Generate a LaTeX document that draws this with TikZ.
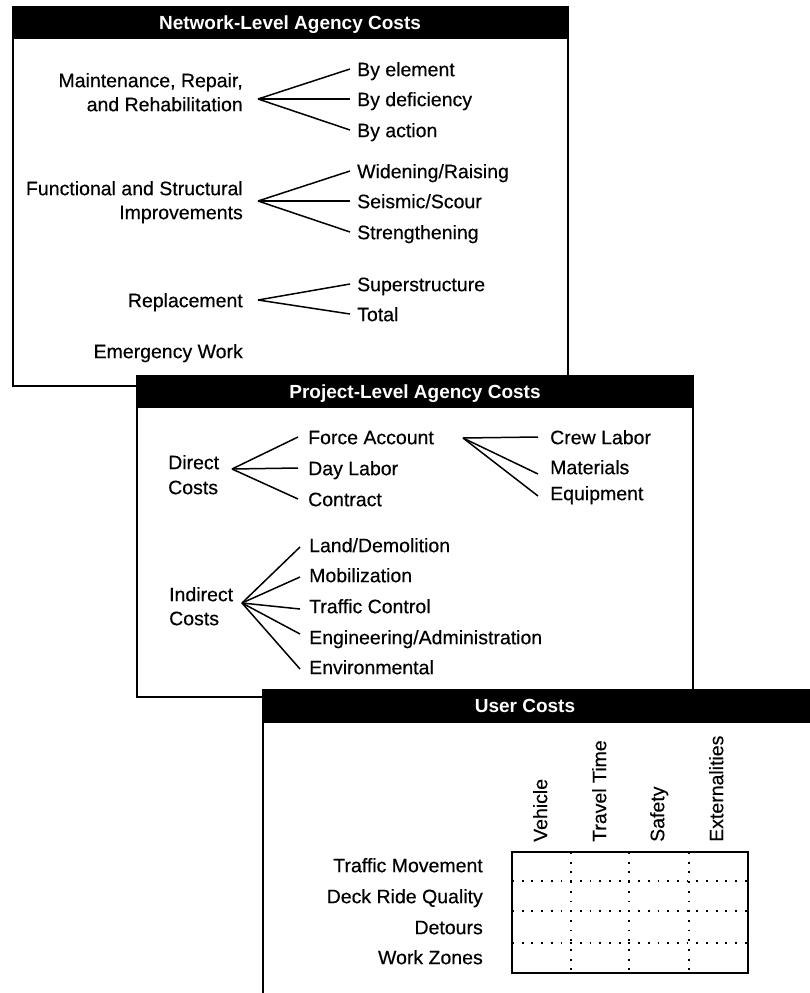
\documentclass[tikz,border=0pt]{standalone}
\usepackage{fontspec}
\setmainfont{Liberation Sans}
\newfontfamily\bodyfont[FakeBold=0.35]{Liberation Sans}
\begin{document}
\begin{tikzpicture}[x=1pt,y=-1pt,
  lbl/.style={inner sep=0pt, text height=14.4pt, text depth=0pt, font=\bodyfont\fontsize{19.5}{24}\selectfont},
  hdrbar/.style={fill=black, draw=black, line width=1.2pt},
  hdrtext/.style={text=white, inner sep=0pt, text height=13.7pt, text depth=0pt, font=\bfseries\fontsize{19}{23}\selectfont},
  boxline/.style={draw=black, fill=white, line width=1.5pt},
  fan/.style={line width=1.5pt},
  dotgrid/.style={line width=1.8pt, dash pattern=on 1.8pt off 7.9pt}]

\clip (0,0) rectangle (810,993);
\fill[white] (0,0) rectangle (810,993);

% ---------------- Box 1: Network-Level Agency Costs
\path[boxline] (13,7) rectangle (568,386);
\path[hdrbar] (13,7) rectangle (568,38);
\node[hdrtext] (h1) at (290,22.5) {Network-Level Agency Costs};

\node[lbl, anchor=east] (mrr1) at (243,80) {Maintenance, Repair,};
\node[lbl, anchor=east] (mrr2) at (243,104) {and Rehabilitation};
\coordinate (o1) at (258,99);
\node[lbl, anchor=west] (be) at (357,69) {By element};
\node[lbl, anchor=west] (bd) at (357,99) {By deficiency};
\node[lbl, anchor=west] (ba) at (357,130) {By action};
\draw[fan] (o1) -- ([xshift=-7pt]be.west);
\draw[fan] (o1) -- ([xshift=-7pt]bd.west);
\draw[fan] (o1) -- ([xshift=-7pt]ba.west);

\node[lbl, anchor=east] (fs1) at (243,188) {Functional and Structural};
\node[lbl, anchor=east] (fs2) at (243,212) {Improvements};
\coordinate (o2) at (258,201);
\node[lbl, anchor=west] (wr) at (357,171) {Widening/Raising};
\node[lbl, anchor=west] (ss) at (357,201) {Seismic/Scour};
\node[lbl, anchor=west] (st) at (357,232) {Strengthening};
\draw[fan] (o2) -- ([xshift=-7pt]wr.west);
\draw[fan] (o2) -- ([xshift=-7pt]ss.west);
\draw[fan] (o2) -- ([xshift=-7pt]st.west);

\node[lbl, anchor=east] (rp) at (243,300) {Replacement};
\coordinate (o3) at (258,300);
\node[lbl, anchor=west] (sup) at (357,284) {Superstructure};
\node[lbl, anchor=west] (tot) at (357,314) {Total};
\draw[fan] (o3) -- ([xshift=-7pt]sup.west);
\draw[fan] (o3) -- ([xshift=-7pt]tot.west);

\node[lbl, anchor=east] (ew) at (243,351) {Emergency Work};

% ---------------- Box 2: Project-Level Agency Costs
\path[boxline] (137,376) rectangle (693,697);
\path[hdrbar] (137,376) rectangle (693,407);
\node[hdrtext] (h2) at (415,392) {Project-Level Agency Costs};

\node[lbl, anchor=west] (dc1) at (168,462) {Direct};
\node[lbl, anchor=west] (dc2) at (168,487) {Costs};
\coordinate (o4) at (232,469);
\node[lbl, anchor=west] (fa) at (308,437) {Force Account};
\node[lbl, anchor=west] (dl) at (308,468) {Day Labor};
\node[lbl, anchor=west] (ct) at (308,499) {Contract};
\draw[fan] (o4) -- ([xshift=-10pt]fa.west);
\draw[fan] (o4) -- ([xshift=-10pt]dl.west);
\draw[fan] (o4) -- ([xshift=-10pt]ct.west);

\coordinate (o5) at (463,438);
\node[lbl, anchor=west] (cl) at (550,437) {Crew Labor};
\node[lbl, anchor=west] (ma) at (550,467) {Materials};
\node[lbl, anchor=west] (eq) at (550,493) {Equipment};
\draw[fan] (o5) -- ([xshift=-12pt]cl.west);
\draw[fan] (o5) -- ([xshift=-12pt,yshift=-7pt]ma.west);
\draw[fan] (o5) -- ([xshift=-12pt,yshift=-3pt]eq.west);

\node[lbl, anchor=west] (ic1) at (169,594) {Indirect};
\node[lbl, anchor=west] (ic2) at (169,618) {Costs};
\coordinate (o6) at (242,603);
\node[lbl, anchor=west] (ld) at (309,545) {Land/Demolition};
\node[lbl, anchor=west] (mb) at (309,575) {Mobilization};
\node[lbl, anchor=west] (tc) at (309,606) {Traffic Control};
\node[lbl, anchor=west] (ea) at (309,637) {Engineering/Administration};
\node[lbl, anchor=west] (en) at (309,667) {Environmental};
\draw[fan] (o6) -- ([xshift=-9pt,yshift=-2pt]ld.west);
\draw[fan] (o6) -- ([xshift=-9pt,yshift=-2pt]mb.west);
\draw[fan] (o6) -- ([xshift=-9pt,yshift=-3pt]tc.west);
\draw[fan] (o6) -- ([xshift=-9pt,yshift=3pt]ea.west);
\draw[fan] (o6) -- ([xshift=-9pt,yshift=-2pt]en.west);

% ---------------- Box 3: User Costs
\path[boxline] (263,690) rectangle (830,1010);
\path[hdrbar] (263,690) rectangle (830,722);
\node[hdrtext] (h3) at (525,706) {User Costs};

\coordinate (tnw) at (512,852);
\coordinate (tse) at (748,973);
\draw[dotgrid] (571,852) -- (571,973);
\draw[dotgrid] (629,852) -- (629,973);
\draw[dotgrid] (689,852) -- (689,973);
\draw[dotgrid] (512,881) -- (748,881);
\draw[dotgrid] (512,911) -- (748,911);
\draw[dotgrid] (512,943) -- (748,943);
\draw[line width=1.5pt] (tnw) rectangle (tse);

\node[lbl, anchor=east] (r1) at (483,865) {Traffic Movement};
\node[lbl, anchor=east] (r2) at (483,896) {Deck Ride Quality};
\node[lbl, anchor=east] (r3) at (483,927) {Detours};
\node[lbl, anchor=east] (r4) at (483,957) {Work Zones};

\node[lbl, rotate=90, anchor=west] (c1) at (540,842) {Vehicle};
\node[lbl, rotate=90, anchor=west] (c2) at (599,842) {Travel Time};
\node[lbl, rotate=90, anchor=west] (c3) at (657,842) {Safety};
\node[lbl, rotate=90, anchor=west] (c4) at (716,842) {Externalities};
\end{tikzpicture}
\end{document}
